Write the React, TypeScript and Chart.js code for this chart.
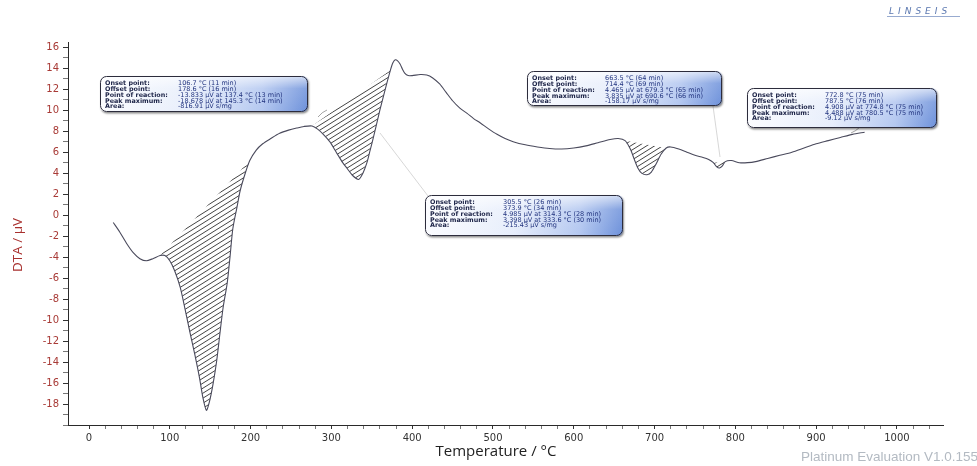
import React, { useEffect, useRef } from 'react';
import { Chart, registerables } from 'chart.js';

Chart.register(...registerables);

// ---------- data ----------
const temperature = [
  30, 38, 47, 55, 63, 71, 79, 88, 94, 100, 106, 113, 119, 125, 131, 137, 141, 145.3, 149, 153.5,
  158, 162, 166, 171, 174.5, 178, 183, 187, 193, 199, 207, 215, 225, 236, 247, 257, 266, 276, 283, 290,
  298, 306, 314, 320, 326, 333.6, 339, 344, 348, 352, 356, 360, 364, 368, 373, 376, 379, 382, 385, 388,
  391, 395, 400, 410, 418, 425, 434, 442, 450, 459, 468, 476, 484, 495, 505, 515, 525, 540, 555, 570,
  585, 600, 615, 630, 645, 655, 663.5, 670, 675, 679.3, 684, 690.6, 696, 702, 708, 714.4, 720, 730, 740, 750,
  760, 767, 772.8, 777, 780.5, 784, 787.5, 795, 805, 815, 825, 840, 855, 870, 885, 900, 915, 930, 945, 960,
];
const dta = [
  -0.7, -1.6, -2.75, -3.6, -4.15, -4.35, -4.15, -3.85, -3.85, -4.35, -5.3, -6.9, -9.0, -11.2, -13.3, -15.6, -17.4, -18.6, -17.8, -16.1,
  -13.9, -11.3, -8.8, -6.5, -4.0, -1.3, 0.7, 2.3, 3.9, 5.2, 6.2, 6.8, 7.3, 7.8, 8.1, 8.3, 8.45, 8.5, 8.2, 7.7,
  7.0, 6.0, 5.0, 4.4, 3.8, 3.4, 4.0, 5.0, 6.2, 7.4, 8.7, 10.0, 11.2, 12.4, 13.8, 14.5, 14.8, 14.7, 14.4, 13.9,
  13.5, 13.3, 13.3, 13.4, 13.35, 13.1, 12.5, 11.7, 10.9, 10.2, 9.7, 9.2, 8.8, 8.2, 7.7, 7.3, 7.0, 6.7, 6.5, 6.35,
  6.3, 6.4, 6.6, 6.9, 7.2, 7.3, 7.1, 6.3, 5.3, 4.5, 4.0, 3.85, 4.1, 4.9, 5.8, 6.4, 6.5, 6.3, 6.0, 5.7,
  5.5, 5.3, 5.0, 4.6, 4.5, 4.7, 5.1, 5.2, 5.0, 5.0, 5.1, 5.4, 5.7, 6.0, 6.4, 6.8, 7.1, 7.4, 7.7, 7.9,
];

// hatched peak areas (start / end temperature)
const hatchStart = [88, 276, 663.5, 772.8];
const hatchEnd = [199, 373, 714.4, 787.5];

const xTickLabels = [0, 100, 200, 300, 400, 500, 600, 700, 800, 900, 1000];
const yTickLabels = [-18, -16, -14, -12, -10, -8, -6, -4, -2, 0, 2, 4, 6, 8, 10, 12, 14, 16];

const xTitle = 'Temperature / °C';
const yTitle = 'DTA / µV';

const annotationLabels = ['Onset point:', 'Offset point:', 'Point of reaction:', 'Peak maximum:', 'Area:'];
const annotationPeak1 = ['106.7 °C (11 min)', '178.6 °C (16 min)', '-13.833 µV at 137.4 °C (13 min)', '-18.678 µV at 145.3 °C (14 min)', '-816.91 µV s/mg'];
const annotationPeak2 = ['305.5 °C (26 min)', '373.9 °C (34 min)', '4.985 µV at 314.3 °C (28 min)', '3.398 µV at 333.6 °C (30 min)', '-215.43 µV s/mg'];
const annotationPeak3 = ['663.5 °C (64 min)', '714.4 °C (69 min)', '4.465 µV at 679.3 °C (65 min)', '3.835 µV at 690.6 °C (66 min)', '-158.17 µV s/mg'];
const annotationPeak4 = ['772.8 °C (75 min)', '787.5 °C (76 min)', '4.908 µV at 774.8 °C (75 min)', '4.488 µV at 780.5 °C (75 min)', '-9.12 µV s/mg'];

// ---------- layout (pixels) ----------
const boxLayout = [
  { x: 100, y: 76, w: 208, h: 36, values: annotationPeak1 },
  { x: 425, y: 195, w: 198, h: 41, values: annotationPeak2 },
  { x: 527, y: 71, w: 195, h: 35, values: annotationPeak3 },
  { x: 747, y: 88, w: 190, h: 40, values: annotationPeak4 },
];

function makeHatch(): CanvasPattern | string {
  const w = 8;
  const h = 5;
  const c = document.createElement('canvas');
  c.width = w;
  c.height = h;
  const g = c.getContext('2d');
  if (!g) return 'rgba(0,0,0,0.25)';
  g.strokeStyle = '#2e2e2e';
  g.lineWidth = 0.9;
  g.beginPath();
  g.moveTo(-w, h); g.lineTo(w, -h);
  g.moveTo(0, h); g.lineTo(w, 0);
  g.moveTo(0, 2 * h); g.lineTo(2 * w, 0);
  g.stroke();
  const p = g.createPattern(c, 'repeat');
  return p || 'rgba(0,0,0,0.25)';
}

function drawBox(ctx: CanvasRenderingContext2D, b: { x: number; y: number; w: number; h: number; values: string[] }) {
  ctx.save();
  ctx.shadowColor = 'rgba(0,0,0,0.45)';
  ctx.shadowBlur = 2;
  ctx.shadowOffsetX = 1;
  ctx.shadowOffsetY = 1.5;
  const grad = ctx.createLinearGradient(b.x, 0, b.x + b.w, 0);
  grad.addColorStop(0, '#fbfcff');
  grad.addColorStop(0.45, '#e6edfb');
  grad.addColorStop(0.78, '#b3c7f0');
  grad.addColorStop(1, '#6c90da');
  ctx.beginPath();
  ctx.roundRect(b.x, b.y, b.w, b.h, 6);
  ctx.fillStyle = grad;
  ctx.fill();
  ctx.restore();
  ctx.save();
  ctx.beginPath();
  ctx.roundRect(b.x, b.y, b.w, b.h, 6);
  ctx.clip();
  const gloss = ctx.createLinearGradient(0, b.y, 0, b.y + b.h);
  gloss.addColorStop(0, 'rgba(255,255,255,0.7)');
  gloss.addColorStop(0.35, 'rgba(255,255,255,0.15)');
  gloss.addColorStop(1, 'rgba(255,255,255,0)');
  ctx.fillStyle = gloss;
  ctx.fillRect(b.x, b.y, b.w, b.h);
  ctx.restore();
  ctx.save();
  ctx.beginPath();
  ctx.roundRect(b.x + 0.5, b.y + 0.5, b.w - 1, b.h - 1, 6);
  ctx.strokeStyle = '#2c2c3c';
  ctx.lineWidth = 1;
  ctx.stroke();
  ctx.textBaseline = 'middle';
  ctx.textAlign = 'left';
  for (let i = 0; i < annotationLabels.length; i++) {
    const ty = b.y + 7.5 + i * 5.8;
    ctx.font = 'bold 6.4px "DejaVu Sans"';
    ctx.fillStyle = '#1b2246';
    ctx.fillText(annotationLabels[i], b.x + 5, ty);
    ctx.font = '6.5px "DejaVu Sans"';
    ctx.fillStyle = '#22347f';
    ctx.fillText(b.values[i], b.x + 78, ty);
  }
  ctx.restore();
}

const decorPlugin = {
  id: 'decor',
  afterDraw(chart: any) {
    const ctx: CanvasRenderingContext2D = chart.ctx;
    ctx.save();
    // faint connector lines
    ctx.strokeStyle = 'rgba(150,150,150,0.55)';
    ctx.lineWidth = 0.7;
    ctx.beginPath();
    ctx.moveTo(380, 133); ctx.lineTo(428, 196);
    ctx.moveTo(713, 106); ctx.lineTo(720, 157);
    ctx.stroke();
    ctx.strokeStyle = 'rgba(90,90,90,0.8)';
    ctx.beginPath();
    ctx.moveTo(318, 117); ctx.quadraticCurveTo(322, 112, 327, 110);
    ctx.moveTo(851, 133); ctx.quadraticCurveTo(856, 131, 860, 127);
    ctx.stroke();
    ctx.restore();

    boxLayout.forEach((b) => drawBox(ctx, b));

    ctx.save();
    // axis titles
    ctx.textAlign = 'center';
    ctx.textBaseline = 'middle';
    ctx.font = '15px "Open Sans"';
    ctx.fillStyle = '#222';
    ctx.fillText(xTitle, 496, 452);
    ctx.save();
    ctx.translate(18, 245);
    ctx.rotate(-Math.PI / 2);
    ctx.font = '13.5px "Open Sans"';
    ctx.fillStyle = '#a8302e';
    ctx.fillText(yTitle, 0, 0);
    ctx.restore();
    // logo
    ctx.font = 'italic 9px "DejaVu Sans"';
    (ctx as any).letterSpacing = '4px';
    ctx.fillStyle = '#5b78b0';
    ctx.textBaseline = 'alphabetic';
    ctx.textAlign = 'left';
    ctx.fillText('LINSEIS', 889, 14);
    ctx.strokeStyle = '#7d95c4';
    ctx.lineWidth = 0.8;
    ctx.beginPath();
    ctx.moveTo(887, 16.5); ctx.lineTo(960, 16.5);
    ctx.stroke();
    (ctx as any).letterSpacing = '0px';
    // footer
    ctx.font = '13.5px "Liberation Sans"';
    ctx.fillStyle = '#b3bac2';
    ctx.textAlign = 'right';
    ctx.fillText('Platinum Evaluation V1.0.155', 978, 461);
    ctx.restore();
  },
};

export default function App() {
  const ref = useRef<HTMLCanvasElement | null>(null);

  useEffect(() => {
    document.body.style.margin = '0';
    const canvas = ref.current;
    if (!canvas) return;
    const pattern = makeHatch();
    const points = temperature.map((t, i) => ({ x: t, y: dta[i] }));
    const hatchSets = hatchStart.map((s, k) => ({
      label: 'area' + k,
      data: points.filter((p) => p.x >= s && p.x <= hatchEnd[k]),
      borderWidth: 0,
      borderColor: 'rgba(0,0,0,0)',
      backgroundColor: pattern as any,
      fill: 'shape' as any,
      pointRadius: 0,
      tension: 0.25,
    }));
    const xTicks: number[] = [];
    for (let v = 0; v <= 1040; v += 20) xTicks.push(v);
    const yTicks: number[] = [];
    for (let v = -20; v <= 16; v += 1) yTicks.push(v);

    const chart = new Chart(canvas, {
      type: 'line',
      data: {
        datasets: [
          {
            label: 'DTA',
            data: points,
            borderColor: '#4a4a5c',
            borderWidth: 1.1,
            pointRadius: 0,
            tension: 0.25,
            fill: false,
          },
          ...hatchSets,
        ] as any,
      },
      options: {
        animation: false,
        responsive: false,
        events: [],
        layout: { padding: { top: 42, right: 34, left: 0, bottom: 0 } },
        plugins: { legend: { display: false }, tooltip: { enabled: false } },
        scales: {
          x: {
            type: 'linear',
            min: -26,
            max: 1057,
            afterBuildTicks: (scale: any) => {
              scale.ticks = xTicks.map((v) => ({ value: v }));
            },
            afterFit: (scale: any) => {
              scale.height = 41;
            },
            grid: {
              drawOnChartArea: false,
              drawTicks: true,
              tickLength: 4,
              tickColor: (c: any) => (xTickLabels.includes(c.tick?.value) ? '#333' : '#777'),
            },
            border: { display: true, color: '#2a2a2a', width: 1 },
            ticks: {
              autoSkip: false,
              maxRotation: 0,
              padding: 3,
              color: '#333',
              font: { family: '"DejaVu Sans"', size: 10 },
              callback: (v: any) => (xTickLabels.includes(Number(v)) ? String(v) : ''),
            },
            title: { display: false, text: xTitle },
          },
          y: {
            type: 'linear',
            min: -20,
            max: 16.5,
            afterBuildTicks: (scale: any) => {
              scale.ticks = yTicks.map((v) => ({ value: v }));
            },
            afterFit: (scale: any) => {
              scale.width = 68;
            },
            grid: {
              drawOnChartArea: false,
              drawTicks: true,
              tickLength: 5,
              tickColor: (c: any) => (yTickLabels.includes(c.tick?.value) ? '#333' : '#777'),
            },
            border: { display: true, color: '#2a2a2a', width: 1 },
            ticks: {
              autoSkip: false,
              padding: 4,
              color: '#a83a36',
              font: { family: '"DejaVu Sans"', size: 10 },
              callback: (v: any) => (yTickLabels.includes(Number(v)) ? String(v) : ''),
            },
            title: { display: false, text: yTitle },
          },
        },
      },
      plugins: [decorPlugin],
    });
    return () => chart.destroy();
  }, []);

  return (
    <div style={{ width: 977, height: 466, position: 'relative', background: '#fff' }}>
      <canvas ref={ref} width={977} height={466} style={{ width: 977, height: 466, display: 'block' }} />
    </div>
  );
}
